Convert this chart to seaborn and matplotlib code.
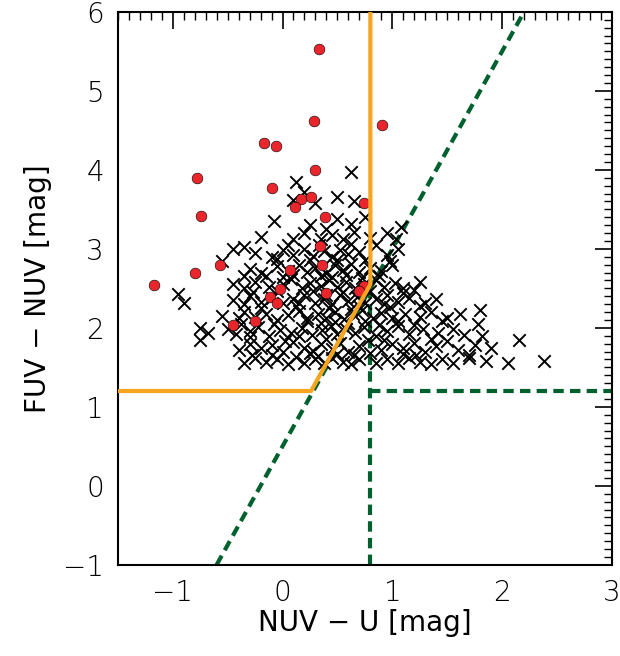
import matplotlib
matplotlib.use("Agg")
import matplotlib.pyplot as plt
import seaborn as sns
import numpy as np
from matplotlib.ticker import MultipleLocator

sns.set_theme(style="white")
plt.rcParams['font.family'] = ['DejaVu Sans']
plt.rcParams['font.weight'] = 'light'
plt.rcParams['text.color'] = 'black'
plt.rcParams['axes.labelcolor'] = 'black'
plt.rcParams['xtick.color'] = 'black'
plt.rcParams['ytick.color'] = 'black'

red_x = [0.33,0.29,0.91,-0.17,-0.06,-0.78,0.30,-0.10,0.17,0.26,0.11,0.74,-0.74,0.39,0.34,
         -0.57,-0.80,0.36,0.07,-1.17,-0.02,-0.11,-0.05,0.40,0.74,0.70,-0.25,-0.45]
red_y = [5.53,4.62,4.57,4.34,4.30,3.90,4.00,3.77,3.63,3.66,3.53,3.58,3.42,3.40,3.04,
         2.80,2.70,2.80,2.73,2.54,2.49,2.39,2.32,2.44,2.53,2.46,2.09,2.04]

black_pts = [
 (-0.35,1.55),(-0.25,1.62),(-0.15,1.57),(-0.05,1.60),(0.05,1.54),(0.12,1.63),(0.20,1.56),(0.30,1.60),
 (0.38,1.55),(0.45,1.62),(0.55,1.57),(0.62,1.54),(0.70,1.61),(0.85,1.56),(0.95,1.60),(1.05,1.55),
 (1.15,1.62),(1.25,1.57),(1.35,1.54),(1.45,1.60),(1.55,1.56),(1.70,1.62),(1.85,1.58),(2.05,1.55),(2.38,1.58),
 (-0.75,1.85),(-0.40,1.72),(-0.30,1.80),(-0.20,1.74),(-0.10,1.78),(0.00,1.70),(0.10,1.82),(0.20,1.75),
 (0.28,1.71),(0.35,1.79),(0.45,1.73),(0.52,1.81),(0.60,1.70),(0.70,1.77),(0.78,1.84),(0.90,1.72),
 (1.00,1.79),(1.10,1.74),(1.20,1.81),(1.30,1.70),(1.40,1.77),(1.50,1.83),(1.60,1.72),(1.75,1.78),(1.90,1.74),
 (-0.50,1.98),(-0.42,1.92),(-0.30,1.96),(-0.22,2.01),(-0.12,1.90),(-0.02,1.97),(0.08,1.93),(0.18,2.00),
 (0.27,1.91),(0.36,1.97),(0.44,2.02),(0.50,1.92),(0.58,1.98),(0.66,1.94),(0.74,2.01),(0.85,1.90),
 (0.95,1.96),(1.05,2.02),(1.15,1.92),(1.28,1.99),(1.42,1.93),(1.55,1.98),(1.65,1.91),(1.82,1.90),(2.15,1.85),
 (-0.55,2.15),(-0.40,2.12),(-0.35,2.20),(-0.25,2.14),(-0.15,2.18),(-0.05,2.10),(0.05,2.16),(0.15,2.21),
 (0.22,2.12),(0.32,2.18),(0.40,2.13),(0.48,2.20),(0.56,2.11),(0.64,2.17),(0.72,2.22),(0.82,2.13),
 (0.90,2.19),(1.00,2.12),(1.12,2.18),(1.25,2.14),(1.35,2.20),(1.50,2.12),(1.80,2.22),(1.78,2.05),
 (-0.45,2.35),(-0.35,2.30),(-0.30,2.40),(-0.20,2.33),(-0.10,2.38),(0.00,2.31),(0.10,2.37),(0.20,2.42),
 (0.30,2.32),(0.38,2.36),(0.45,2.30),(0.52,2.41),(0.60,2.34),(0.68,2.39),(0.75,2.31),(0.85,2.36),
 (0.95,2.42),(1.05,2.33),(1.15,2.38),(1.30,2.32),(1.40,2.37),
 (-0.45,2.55),(-0.35,2.50),(-0.25,2.58),(-0.12,2.52),(0.00,2.56),(0.08,2.62),(0.18,2.51),(0.25,2.57),
 (0.35,2.53),(0.42,2.60),(0.50,2.52),(0.58,2.58),(0.66,2.50),(0.74,2.56),(0.85,2.61),(0.92,2.52),
 (1.02,2.57),(1.10,2.51),(1.25,2.58),
 (-0.30,2.75),(-0.20,2.70),(-0.05,2.78),(0.05,2.72),(0.15,2.80),(0.22,2.71),(0.30,2.76),(0.40,2.70),
 (0.48,2.79),(0.55,2.73),(0.62,2.81),(0.70,2.71),(0.80,2.76),(0.90,2.72),(1.00,2.79),
 (-0.25,2.95),(-0.10,2.90),(0.00,2.98),(0.10,2.92),(0.20,3.00),(0.28,2.91),(0.38,2.97),(0.45,2.90),
 (0.52,2.99),(0.60,2.93),(0.70,2.96),(0.95,2.92),(1.05,3.00),
 (-0.20,3.15),(0.10,3.12),(0.20,3.20),(0.35,3.13),(0.45,3.18),(0.55,3.12),(0.65,3.21),(0.80,3.14),(0.95,3.20),
 (-0.08,3.35),(0.25,3.30),(0.50,3.38),(0.62,3.32),(0.75,3.40),(1.08,3.27),(1.03,3.12),
 (0.10,3.62),(0.30,3.58),(0.50,3.65),(0.65,3.60),(0.62,3.97),(0.12,3.85),(0.20,3.72),
 (-0.95,2.43),(-0.90,2.32),(-0.75,2.00),(-0.68,1.93),(-0.45,3.00),(-0.55,2.85),(-0.35,3.02),
 (-0.30,1.88),(-0.10,1.66),(0.25,1.68),(0.40,1.86),(0.65,1.65),(0.80,1.68),(1.10,1.67),(1.35,1.86),
 (0.15,1.90),(0.35,2.06),(0.60,2.06),(0.88,2.04),(1.20,2.04),(1.45,2.08),(1.62,2.18),(1.70,1.66),
 (-0.20,2.25),(0.12,2.27),(0.42,2.25),(0.70,2.27),(0.98,2.26),(1.25,2.27),(-0.05,2.47),(0.28,2.46),
 (0.55,2.45),(0.80,2.46),(1.10,2.44),(-0.15,2.65),(0.10,2.67),(0.35,2.66),(0.58,2.67),(0.88,2.66),
 (-0.05,2.87),(0.25,2.86),(0.50,2.86),(0.75,2.86),(0.05,3.05),(0.33,3.05),(0.62,3.06),(0.85,3.05),
 (-0.28,1.65),(0.02,1.83),(0.32,1.64),(0.50,1.67),(0.92,1.84),(1.22,1.66),(-0.38,2.05),(-0.08,2.05),
 (0.22,2.08),(0.48,2.07),(0.75,2.08),(1.05,2.09),(-0.27,2.45),(0.15,2.32),(0.40,2.41),(0.62,2.24),
 (0.92,2.30),(1.20,2.48),(-0.35,2.65),(0.00,2.64),(0.45,2.64),(0.72,2.63),(0.98,2.85),(0.40,3.25),
]
black_x = [p[0] for p in black_pts]
black_y = [p[1] for p in black_pts]

fig = plt.figure(figsize=(6.2, 6.56), dpi=100)
ax = fig.add_axes([0.19, 0.139, 0.797, 0.843])

sns.scatterplot(x=black_x, y=black_y, marker="x", color="black", s=80, linewidth=1.4, ax=ax, zorder=3)
sns.scatterplot(x=red_x, y=red_y, marker="o", color="#e8262b", s=60, edgecolor="black",
                linewidth=0.4, ax=ax, zorder=4)

green = "#00602e"
ax.plot([0.8, 0.8], [-1, 2.55], ls=(0, (2.5, 1.5)), color=green, lw=3, zorder=2)
ax.plot([0.8, 3.0], [1.2, 1.2], ls=(0, (2.5, 1.5)), color=green, lw=3, zorder=2)
ax.plot([-0.6, 2.2], [-1.0, 6.0], ls=(0, (2.5, 1.5)), color=green, lw=3, zorder=2)
orange = "#f7a521"
ax.plot([-1.5, 0.26, 0.8, 0.8], [1.2, 1.2, 2.55, 6.0], color=orange, lw=3, zorder=5)

ax.set_xlim(-1.5, 3.0)
ax.set_ylim(-1.0, 6.0)
ax.xaxis.set_minor_locator(MultipleLocator(0.1))
ax.yaxis.set_minor_locator(MultipleLocator(0.1))
ax.tick_params(which="both", direction="in", top=True, right=True, color="black")
ax.tick_params(which="major", length=12, width=1.2, labelsize=20, pad=10)
ax.tick_params(which="minor", length=6, width=1)
for s in ax.spines.values():
    s.set_color("black"); s.set_linewidth(1.5)
ax.set_xticks([-1, 0, 1, 2, 3])
ax.set_xticklabels(["−1", "0", "1", "2", "3"])
ax.set_yticks([-1, 0, 1, 2, 3, 4, 5, 6])
ax.set_yticklabels(["−1", "0", "1", "2", "3", "4", "5", "6"])
ax.set_xlabel("NUV − U [mag]", fontsize=20, labelpad=2)
ax.set_ylabel("FUV − NUV [mag]", fontsize=20, labelpad=8)

fig.savefig("out.png", dpi=100)
